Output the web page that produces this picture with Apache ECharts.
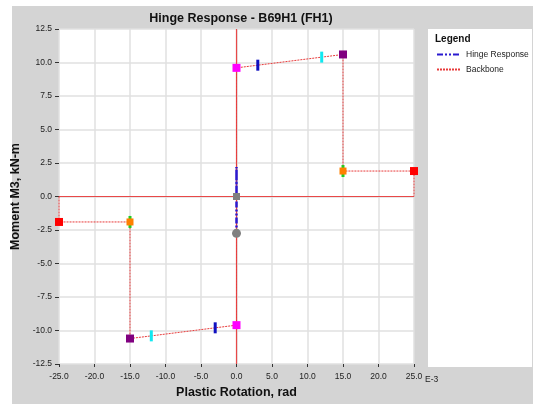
<!DOCTYPE html>
<html><head><meta charset="utf-8">
<script src="https://cdn.jsdelivr.net/npm/echarts@6/dist/echarts.min.js"></script>
<style>html,body{margin:0;padding:0;background:#fff}#c{width:536px;height:404px}</style>
</head><body><div id="c"></div>
<script>
const titleText = 'Hinge Response - B69H1 (FH1)';
const xName = 'Plastic Rotation, rad';
const yName = 'Moment M3, kN-m';
const legendNames = ['Hinge Response', 'Backbone'];

// Backbone curve (rotation E-3 rad, moment kN-m)
const backboneX = [-25, -25, -15, -15, 0, 0, 0, 15, 15, 25, 25];
const backboneY = [0, -1.9, -1.9, -10.6, -9.6, 0, 9.6, 10.6, 1.9, 1.9, 0];
// Hinge response
const hingeX = [0, 0, 0, 0];
const hingeY = [0, 2.2, 0, -2.75];
// Marker points
const bPts = [[0, 9.6], [0, -9.6]];
const ioPts = [[3, 9.8], [-3, -9.8]];
const lsPts = [[12, 10.4], [-12, -10.4]];
const cpPts = [[15, 10.6], [-15, -10.6]];
const dPts = [[15, 1.9], [-15, -1.9]];
const ePts = [[25, 1.9], [-25, -1.9]];
const originPt = [[0, 0]];
const currentPt = [[0, -2.75]];

const zip = (xs, ys) => xs.map((x, i) => [x, ys[i]]);
const chart = echarts.init(document.getElementById('c'), null, {renderer: 'canvas'});
const FONT = 'Liberation Sans, Arial, sans-serif';

function scatter(name, data, symbol, size, color, z) {
  return {name, type: 'scatter', data, symbol, symbolSize: size,
    itemStyle: {color, opacity: 1}, z: z || 5, silent: true};
}

chart.setOption({
  backgroundColor: '#fff',
  animation: false,
  textStyle: {fontFamily: FONT},
  graphic: [
    {type: 'rect', left: 12, top: 6, shape: {width: 521, height: 398}, style: {fill: '#d4d4d4'}, z: -10},
    {type: 'rect', left: 428, top: 29, shape: {width: 104, height: 338}, style: {fill: '#fff'}, z: -9},
    {type: 'text', left: 435, top: 34, style: {text: 'Legend', font: 'bold 10px ' + FONT, fill: '#111'}},
    {type: 'text', left: 425, top: 375, style: {text: 'E-3', font: '8.5px ' + FONT, fill: '#222'}}
  ],
  title: {text: titleText, left: 236, top: 7, textAlign: 'center',
    textStyle: {fontSize: 12.5, fontWeight: 'bold', color: '#111', fontFamily: FONT}},
  legend: {data: legendNames, orient: 'vertical', left: 436, top: 50, padding: 0, itemGap: 6,
    itemWidth: 24, itemHeight: 8, itemStyle: {opacity: 0},
    textStyle: {fontSize: 8.5, color: '#222', fontFamily: FONT}},
  grid: {left: 59, top: 29, width: 355, height: 338, show: true, backgroundColor: '#fff', borderWidth: 0},
  xAxis: {type: 'value', min: -25, max: 25, interval: 5,
    name: xName, nameLocation: 'middle', nameGap: 22,
    nameTextStyle: {fontSize: 12.5, fontWeight: 'bold', color: '#111'},
    axisLine: {show: false, onZero: false},
    axisTick: {show: true, length: 3, lineStyle: {color: '#333'}},
    axisLabel: {fontSize: 8.5, color: '#222', margin: 8, formatter: v => v.toFixed(1)},
    splitLine: {show: true, lineStyle: {color: '#e0e0e0', width: 1.5}}},
  yAxis: {type: 'value', min: -12.5, max: 12.5, interval: 2.5,
    name: yName, nameLocation: 'middle', nameGap: 31,
    nameTextStyle: {fontSize: 12.5, fontWeight: 'bold', color: '#111'},
    axisLine: {show: false, onZero: false},
    axisTick: {show: true, length: 4, lineStyle: {color: '#333'}},
    axisLabel: {fontSize: 8.5, color: '#222', margin: 7, formatter: v => v.toFixed(1)},
    splitLine: {show: true, lineStyle: {color: '#e0e0e0', width: 1.5}}},
  series: [
    {name: 'zero', type: 'line', data: [], silent: true, z: 1,
      markLine: {silent: true, z: 1, symbol: 'none', label: {show: false},
        lineStyle: {color: '#e84848', width: 1.2, type: 'solid'},
        data: [{xAxis: 0}, {yAxis: 0}]}},
    {name: 'Backbone', type: 'line', data: zip(backboneX, backboneY), symbol: 'none',
      lineStyle: {color: '#e83a3a', width: 1, type: [2, 1]}, itemStyle: {color: '#e83a3a'}, z: 3, silent: true},
    {name: 'Hinge Response', type: 'line', data: zip(hingeX, hingeY), symbol: 'none',
      lineStyle: {color: '#2a1ad0', width: 2.5, type: [6, 2, 2, 2, 2, 2]}, itemStyle: {color: '#2a1ad0'}, z: 4, silent: true},
    scatter('B', bPts, 'rect', 8, '#ff00ff'),
    scatter('IO', ioPts, 'rect', [3, 11], '#1010c0'),
    scatter('LS', lsPts, 'rect', [3, 11], '#10e8f0'),
    scatter('CP', cpPts, 'rect', 8, '#800080'),
    scatter('Dg', dPts, 'rect', [3, 12], '#22cc22'),
    scatter('D', dPts, 'rect', 7, '#ff8000', 6),
    scatter('E', ePts, 'rect', 8, '#ff0000'),
    scatter('O', originPt, 'rect', 7, '#808080'),
    scatter('C', currentPt, 'circle', 9, '#808080')
  ]
});
</script></body></html>
